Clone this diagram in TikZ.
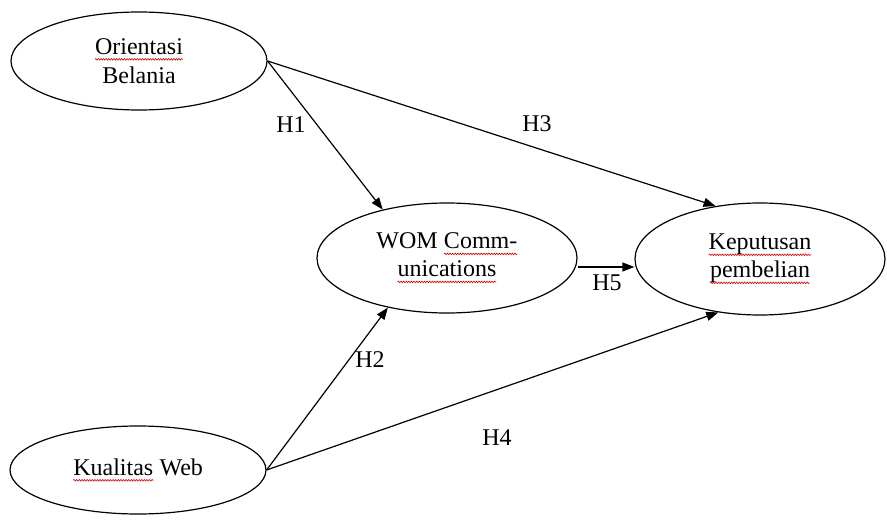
\documentclass[tikz,border=0pt]{standalone}
\usepackage{fontspec}
\setmainfont{Liberation Serif}
\usetikzlibrary{shapes.geometric,arrows.meta,decorations.pathmorphing}
\newcommand\rw[1]{\tikz[baseline=(rwtxt.base),x=1pt,y=1pt]{\node[inner sep=0pt,outer sep=0pt,draw=none,shape=rectangle,minimum size=0pt,align=left] (rwtxt) {#1};
  \draw[red!85!black, line width=0.6pt, decorate, decoration={snake,amplitude=0.8pt,segment length=2.6pt}] ([yshift=-5pt]rwtxt.base west) -- ([yshift=-5pt]rwtxt.base east);}}
\tikzset{
  ell/.style={draw, ellipse, line width=1.2pt, inner sep=0pt, align=center, font=\fontsize{24}{28}\selectfont},
  arr/.style={line width=1.2pt, -{Triangle[length=12pt,width=9pt]}},
  hlab/.style={font=\fontsize{24}{28}\selectfont, inner sep=0pt}
}
\begin{document}
\begin{tikzpicture}[x=1pt,y=-1pt]
\useasboundingbox (0,0) rectangle (887,527);
\node[ell, minimum width=256pt, minimum height=98pt] (o) at (139,61) {\rw{Orientasi}\\[1pt]Belania};
\node[ell, minimum width=260pt, minimum height=110pt] (w) at (447,258) {WOM \rw{Comm-}\\\rw{unications}};
\node[ell, minimum width=250pt, minimum height=112pt] (k) at (760,259) {\rw{Keputusan}\\\rw{pembelian}};
\node[ell, minimum width=256pt, minimum height=88pt] (q) at (138,470) {\rw{Kualitas} Web};
\draw[arr] (o.east) -- (w.143);
\draw[arr] (o.east) -- (k.130);
\draw[arr] (q.east) -- (w.220);
\draw[arr] (q.east) -- (k.232);
\coordinate (h5s) at ([yshift=-9pt]w.east);
\draw[arr] (h5s) -- (h5s -| k.west);
\node[hlab] (h1) at (291,125) {H1};
\node[hlab] (h3) at (537,124) {H3};
\node[hlab] (h2) at (370,360) {H2};
\node[hlab] (h4) at (497,438) {H4};
\node[hlab] (h5) at (607,283) {H5};
\end{tikzpicture}
\end{document}
